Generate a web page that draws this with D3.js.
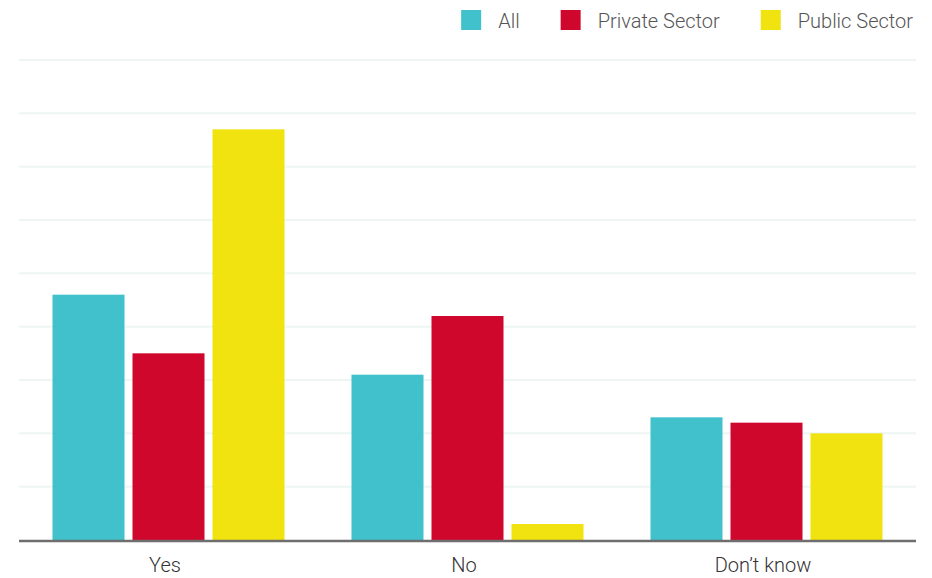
<!DOCTYPE html>
<html>
<head>
<meta charset="utf-8">
<script src="https://cdn.jsdelivr.net/npm/d3@7"></script>
<style>
  body { margin: 0; background: #fff; }
  svg { display: block; font-family: Roboto, "Open Sans", sans-serif; }
</style>
</head>
<body>
<div id="root"></div>
<script>
const categories = ["Yes", "No", "Don\u2019t know"];
const seriesNames = ["All", "Private Sector", "Public Sector"];
const allValues = [46, 31, 23];
const privateValues = [35, 42, 22];
const publicValues = [77, 3, 20];
const yTicks = [0, 10, 20, 30, 40, 50, 60, 70, 80, 90];

const colors = ["#40C1CB", "#D0072D", "#F0E30F"];
const seriesValues = [allValues, privateValues, publicValues];

const w = 932;
const h = 578;
const plotLeft = 19, plotRight = 916, plotTop = 60, plotBottom = 540;

const svg = d3.select("#root")
  .append("svg")
  .attr("width", w)
  .attr("height", h);

const x0 = d3.scaleBand()
  .domain(categories)
  .range([plotLeft, plotRight]);

const x1 = d3.scaleBand()
  .domain(seriesNames)
  .range([33.5, x0.bandwidth() - 33.5])
  .paddingInner(0.1);

const yScale = d3.scaleLinear()
  .domain([0, 90])
  .range([plotBottom, plotTop]);

// gridlines
svg.append("g")
  .selectAll("line")
  .data(yTicks.slice(1))
  .enter()
  .append("line")
  .attr("x1", plotLeft)
  .attr("x2", plotRight)
  .attr("y1", d => yScale(d))
  .attr("y2", d => yScale(d))
  .attr("stroke", "#EDF6F3")
  .attr("stroke-width", 2);

// bars
const groups = svg.selectAll(".group")
  .data(categories)
  .enter()
  .append("g")
  .attr("class", "group")
  .attr("transform", d => `translate(${x0(d)},0)`);

groups.selectAll("rect")
  .data((d, i) => seriesNames.map((s, j) => ({ s, j, v: seriesValues[j][i] })))
  .enter()
  .append("rect")
  .attr("x", d => x1(d.s))
  .attr("y", d => yScale(d.v))
  .attr("width", x1.bandwidth())
  .attr("height", d => plotBottom - yScale(d.v))
  .attr("fill", d => colors[d.j]);

// baseline
svg.append("line")
  .attr("x1", plotLeft)
  .attr("x2", plotRight)
  .attr("y1", plotBottom + 1)
  .attr("y2", plotBottom + 1)
  .attr("stroke", "#6E6E6E")
  .attr("stroke-width", 2.5);

// x axis labels
const xAxis = d3.axisBottom(x0).tickSize(0).tickPadding(0);
const gx = svg.append("g")
  .attr("transform", `translate(-3.5, ${plotBottom})`)
  .call(xAxis);
gx.select(".domain").remove();
gx.selectAll("text")
  .attr("dy", 0)
  .attr("y", 32)
  .attr("font-size", 20)
  .attr("font-weight", 300)
  .attr("font-family", "Roboto, sans-serif")
  .attr("fill", "#333");

// legend, laid out from the right edge
const legend = svg.append("g");
let xr = 913;
for (let i = seriesNames.length - 1; i >= 0; i--) {
  const t = legend.append("text")
    .attr("y", 28)
    .attr("font-size", 20)
    .attr("font-weight", 300)
    .attr("fill", "#555")
    .text(seriesNames[i]);
  const tw = t.node().getComputedTextLength();
  t.attr("x", xr - tw);
  legend.append("rect")
    .attr("x", xr - tw - 37)
    .attr("y", 10)
    .attr("width", 20)
    .attr("height", 20)
    .attr("fill", colors[i]);
  xr = xr - tw - 37 - 41;
}
</script>
</body>
</html>
